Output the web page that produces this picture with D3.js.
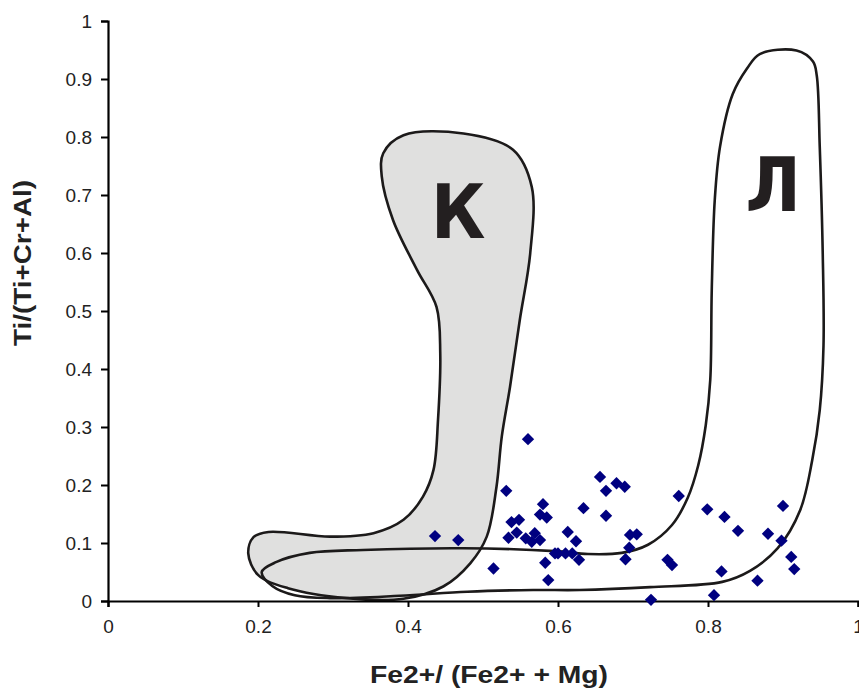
<!DOCTYPE html>
<html>
<head>
<meta charset="utf-8">
<title>Ti/(Ti+Cr+Al) vs Fe2+/(Fe2+ + Mg)</title>
<script src="https://cdn.jsdelivr.net/npm/d3@7"></script>
<style>
  body { margin: 0; background: #fff; }
  text { font-family: "Liberation Sans", Arial, sans-serif; }
</style>
</head>
<body>
<div id="chart"></div>
<script>
// sample points, Fe2+/(Fe2+ + Mg) and Ti/(Ti+Cr+Al)
var feRatio = [0.436, 0.467, 0.514, 0.531, 0.560, 0.580, 0.576, 0.585, 0.538, 0.548,
               0.534, 0.545, 0.557, 0.569, 0.576, 0.565, 0.583, 0.587, 0.596, 0.656,
               0.678, 0.689, 0.664, 0.634, 0.664, 0.761, 0.613, 0.624, 0.696, 0.705,
               0.695, 0.600, 0.610, 0.619, 0.628, 0.690, 0.746, 0.752, 0.724, 0.799,
               0.822, 0.840, 0.880, 0.900, 0.898, 0.911, 0.915, 0.818, 0.866, 0.808];
var tiRatio = [0.112, 0.105, 0.056, 0.190, 0.279, 0.167, 0.149, 0.144, 0.136, 0.140,
               0.109, 0.118, 0.108, 0.117, 0.105, 0.102, 0.066, 0.036, 0.082, 0.214,
               0.203, 0.197, 0.190, 0.160, 0.147, 0.181, 0.119, 0.103, 0.114, 0.115,
               0.092, 0.082, 0.082, 0.082, 0.071, 0.072, 0.071, 0.062, 0.002, 0.158,
               0.145, 0.121, 0.116, 0.164, 0.104, 0.076, 0.055, 0.051, 0.035, 0.010];

// field K outline (grey)
var fieldKx = [0.367, 0.394, 0.474, 0.540, 0.565, 0.563, 0.549, 0.536, 0.525, 0.518,
               0.505, 0.483, 0.447, 0.394, 0.318, 0.240, 0.200, 0.187, 0.194, 0.214,
               0.296, 0.354, 0.394, 0.420, 0.434, 0.440, 0.443, 0.438, 0.412, 0.380, 0.365];
var fieldKy = [0.772, 0.803, 0.806, 0.778, 0.714, 0.600, 0.484, 0.369, 0.283, 0.197,
               0.111, 0.065, 0.025, 0.004, 0.005, 0.022, 0.045, 0.082, 0.110, 0.119,
               0.111, 0.117, 0.140, 0.180, 0.226, 0.312, 0.427, 0.507, 0.571, 0.657, 0.732];

// field Л outline
var fieldLx = [0.852, 0.869, 0.918, 0.940, 0.945, 0.949, 0.953, 0.954, 0.949, 0.939,
               0.923, 0.893, 0.856, 0.819, 0.723, 0.629, 0.567, 0.479, 0.389, 0.296,
               0.249, 0.219, 0.205, 0.224, 0.269, 0.340, 0.473, 0.596, 0.640, 0.685,
               0.720, 0.752, 0.773, 0.787, 0.797, 0.803, 0.805, 0.809, 0.816, 0.833];
var fieldLy = [0.918, 0.943, 0.949, 0.930, 0.906, 0.783, 0.598, 0.440, 0.329, 0.243,
               0.157, 0.091, 0.052, 0.033, 0.024, 0.019, 0.019, 0.016, 0.009, 0.005,
               0.010, 0.026, 0.050, 0.067, 0.083, 0.088, 0.091, 0.086, 0.081, 0.083,
               0.097, 0.131, 0.178, 0.234, 0.303, 0.381, 0.536, 0.691, 0.783, 0.874];

var xTicks = [0, 0.2, 0.4, 0.6, 0.8, 1];
var yTicks = [0, 0.1, 0.2, 0.3, 0.4, 0.5, 0.6, 0.7, 0.8, 0.9, 1];

var margin = {top: 21, right: 1, bottom: 88, left: 108};
var width = 859 - margin.left - margin.right;
var height = 689 - margin.top - margin.bottom;

var svg = d3.select("#chart")
  .append("svg")
    .attr("width", 859)
    .attr("height", 689)
  .append("g")
    .attr("transform", "translate(" + margin.left + "," + margin.top + ")");

var x = d3.scaleLinear().domain([0, 1]).range([0, 750]);
var y = d3.scaleLinear().domain([0, 1]).range([height, 0]);

var outline = d3.line()
  .x(function(d) { return x(d[0]); })
  .y(function(d) { return y(d[1]); })
  .curve(d3.curveCatmullRomClosed.alpha(0.5));

// K field
svg.append("path")
  .datum(d3.zip(fieldKx, fieldKy))
  .attr("d", outline)
  .attr("fill", "#e0e0df")
  .attr("stroke", "#1c1a1a")
  .attr("stroke-width", 2.6);

// Л field
svg.append("path")
  .datum(d3.zip(fieldLx, fieldLy))
  .attr("d", outline)
  .attr("fill", "none")
  .attr("stroke", "#1c1a1a")
  .attr("stroke-width", 2.6);

// field labels
svg.append("text")
  .attr("x", x(0.467)).attr("y", y(0.626))
  .attr("text-anchor", "middle")
  .style("font-family", "'Liberation Sans Narrow', 'DejaVu Sans Condensed', sans-serif")
  .style("font-weight", "bold").style("font-size", "74px")
  .attr("fill", "#231f20")
  .text("К");
svg.append("text")
  .attr("x", x(0.887)).attr("y", y(0.672))
  .attr("text-anchor", "middle")
  .style("font-family", "'Liberation Sans Narrow', 'DejaVu Sans Condensed', sans-serif")
  .style("font-weight", "bold").style("font-size", "74px")
  .attr("fill", "#231f20")
  .text("Л");

// axes
var xAxis = svg.append("g")
  .attr("transform", "translate(0," + height + ")")
  .call(d3.axisBottom(x).tickValues(xTicks).tickSize(6).tickPadding(13).tickFormat(d3.format("~g")));
var yAxis = svg.append("g")
  .call(d3.axisLeft(y).tickValues(yTicks).tickSize(7).tickPadding(9).tickFormat(d3.format("~g")));

[xAxis, yAxis].forEach(function(a) {
  a.select(".domain").attr("stroke", "#000").attr("stroke-width", 2.2);
  a.selectAll(".tick line").attr("stroke", "#000").attr("stroke-width", 2);
  a.selectAll(".tick text")
    .attr("fill", "#222")
    .style("font-size", "19px")
    .style("font-family", "'Liberation Sans', Arial, sans-serif");
});

// points
svg.append("g")
  .selectAll("path")
  .data(d3.zip(feRatio, tiRatio))
  .enter()
  .append("path")
    .attr("d", d3.symbol(d3.symbolSquare, 76))
    .attr("transform", function(d) { return "translate(" + x(d[0]) + "," + y(d[1]) + ") rotate(45)"; })
    .attr("fill", "#000080");

// axis titles
svg.append("text")
  .attr("x", 381).attr("y", height + 82)
  .attr("text-anchor", "middle")
  .attr("textLength", 238).attr("lengthAdjust", "spacingAndGlyphs")
  .style("font-weight", "bold").style("font-size", "23px")
  .attr("fill", "#222")
  .text("Fe2+/ (Fe2+ + Mg)");

svg.append("text")
  .attr("transform", "translate(" + (-77) + "," + 242 + ") rotate(-90)")
  .attr("text-anchor", "middle")
  .attr("textLength", 166).attr("lengthAdjust", "spacingAndGlyphs")
  .style("font-weight", "bold").style("font-size", "23px")
  .attr("fill", "#222")
  .text("Ti/(Ti+Cr+Al)");
</script>
</body>
</html>
